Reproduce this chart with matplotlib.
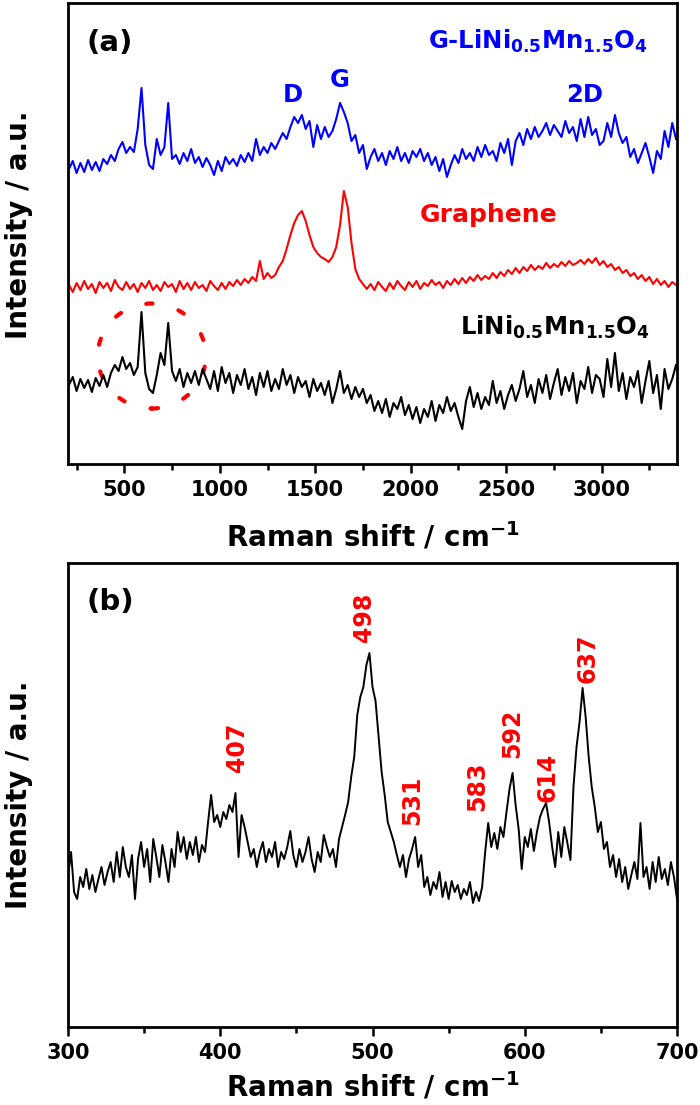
import numpy as np
import matplotlib
matplotlib.use("Agg")
import matplotlib.pyplot as plt
from matplotlib.patches import Ellipse
from matplotlib.ticker import MultipleLocator

plt.rcParams['font.family'] = ['DejaVu Sans']
plt.rcParams['font.weight'] = 'bold'
plt.rcParams['mathtext.fontset'] = 'custom'
plt.rcParams['mathtext.rm'] = 'DejaVu Sans:bold'
plt.rcParams['mathtext.it'] = 'DejaVu Sans:bold'
plt.rcParams['mathtext.bf'] = 'DejaVu Sans:bold'

# ---- panel (a): Raman spectra, 210-3390 cm-1 every 20 cm-1 (relative intensity, a.u.)
shift_a = np.arange(210, 3391, 20)

g_lnmo = [
    -2, 6, -6, 4, -5, 7, -3, 5, -4, 8,          # 210-390
    3, 12, 6, 18, 25, 14, 20, 15, 38, 79,       # 410-590
    22, 2, -2, 28, 12, 20, 64, 8, 12, 3,        # 610-790
    14, 6, 18, 4, 10, 0, 9, 2, -8, 6,           # 810-990
    -4, 10, 3, 8, 1, 12, 5, 14, 6, 28,          # 1010-1190
    12, 20, 14, 24, 18, 26, 34, 28, 40, 50,     # 1210-1390
    44, 52, 38, 46, 20, 42, 28, 40, 30, 36,     # 1410-1590
    48, 64, 55, 44, 26, 32, 14, 22, -2, 10,     # 1610-1790
    18, 6, 14, 2, 16, 8, 20, 6, 14, 4,          # 1810-1990
    16, 10, 18, 6, 14, 2, 10, -4, 8, -10,       # 2010-2190
    2, 12, 4, 18, 8, 14, 6, 20, 10, 22,         # 2210-2390
    12, 16, 6, 24, 14, 28, 2, 26, 34, 22,       # 2410-2590
    38, 28, 40, 30, 36, 44, 32, 42, 36, 30,     # 2610-2790
    46, 34, 40, 26, 48, 30, 50, 32, 38, 22,     # 2810-2990
    26, 44, 30, 52, 34, 24, 30, 10, 18, 4,      # 3010-3190
    14, 24, 10, -6, 16, 8, 36, 20, 44, 28,      # 3210-3390
]

graphene = [
    2, -5, 4, -3, 6, -2, 3, -6, 5, -1,
    4, -4, 7, 0, -3, 5, -2, 3, -5, 4,
    -1, 6, -3, 2, -4, 5, 0, 3, -5, 6,
    -2, 4, -3, 5, -1, 2, -4, 6, 1, -3,
    4, -2, 5, 1, 7, 2, 8, 4, 10, 6,
    26, 8, 14, 9, 12, 20, 26, 38, 52, 64,
    72, 76, 66, 52, 40, 34, 30, 28, 25, 30,
    40, 62, 96, 80, 44, 18, 8, 3, -2, 3,
    -3, 5, 0, -4, 4, -2, 6, 1, -3, 5,
    0, 6, -2, 4, 1, 7, 2, 5, -1, 6,
    2, 8, 3, 9, 4, 10, 6, 12, 7, 11,
    8, 14, 9, 15, 11, 17, 13, 19, 14, 20,
    16, 22, 17, 21, 18, 24, 19, 23, 20, 25,
    21, 26, 22, 24, 27, 23, 28, 24, 29, 22,
    26, 20, 23, 17, 20, 14, 17, 11, 14, 8,
    12, 6, 10, 3, 8, 2, 6, 0, 5, 2,
]

lnmo = [
    -2, 6, -8, 4, -5, 3, -9, 5, -3, 8,
    -4, 10, 18, 12, 26, 14, 20, 8, 16, 71,
    10, -6, -10, 8, 30, 18, 60, 12, 2, 14,
    -4, 10, 0, 12, -2, 14, 4, -6, 12, -8,
    16, 0, 10, -10, 8, -2, 14, -6, 6, -12,
    10, -4, 12, -8, 4, -6, 14, -2, 8, -10,
    6, -4, 2, -14, 4, -8, 0, -12, 2, -20,
    -6, 12, -10, -2, -16, -4, -14, -6, -20, -12,
    -28, -18, -30, -16, -34, -20, -26, -14, -32, -22,
    -36, -24, -40, -26, -34, -18, -38, -22, -30, -14,
    -28, -20, -34, -46, -18, -4, -24, -10, -26, -14,
    -22, 2, -20, -8, -26, -12, -2, -18, -6, 12,
    -14, -2, -20, 4, -10, 8, -16, 0, 14, -12,
    6, -8, 10, -20, 2, -6, 16, -10, 8, 4,
    -14, 24, -4, 30, -8, 10, -16, 6, -4, 12,
    -20, 2, 22, -10, 8, -26, 14, -6, 4, 18,
]

# ---- panel (b): LiNi0.5Mn1.5O4, 300-700 cm-1 every 2 cm-1
shift_b = np.arange(300, 701, 2)
lnmo_zoom = [
    150, 175, 135, 128, 150, 140, 158, 138, 152, 135,   # 300-318
    148, 160, 142, 155, 165, 145, 175, 150, 180, 160,   # 320-338
    150, 172, 128, 168, 185, 160, 178, 145, 188, 170,   # 340-358
    150, 182, 165, 145, 178, 160, 195, 175, 190, 168,   # 360-378
    185, 172, 190, 165, 182, 175, 205, 232, 205, 212,   # 380-398
    200, 215, 208, 222, 215, 234, 170, 212, 200, 185,   # 400-418
    170, 178, 160, 175, 185, 165, 178, 170, 185, 160,   # 420-438
    175, 168, 180, 196, 172, 160, 178, 165, 175, 190,   # 440-458
    168, 155, 175, 165, 192, 180, 170, 178, 160, 188,   # 460-478
    200, 212, 225, 250, 270, 312, 330, 340, 362, 374,   # 480-498
    340, 326, 290, 255, 232, 205, 195, 185, 172, 160,   # 500-518
    172, 150, 168, 178, 190, 160, 172, 140, 150, 132,   # 520-538
    145, 138, 155, 130, 145, 128, 146, 135, 142, 128,   # 540-558
    138, 132, 145, 124, 135, 126, 140, 175, 204, 180,   # 560-578
    194, 178, 200, 190, 215, 238, 254, 222, 198, 158,   # 580-598
    190, 180, 198, 176, 195, 210, 218, 224, 205, 180,   # 600-618
    160, 195, 170, 200, 184, 167, 240, 280, 305, 339,   # 620-638
    310, 270, 240, 220, 195, 205, 178, 185, 160, 172,   # 640-658
    150, 168, 145, 160, 138, 152, 165, 148, 204, 150,   # 660-678
    160, 138, 165, 145, 170, 148, 158, 142, 165, 150,   # 680-698
    128,                                                 # 700
]
peak_labels = ['407', '498', '531', '583', '592', '614', '637']

fig = plt.figure(figsize=(7, 11.05), dpi=100)
ax_a = fig.add_axes([68 / 700, 1 - 464 / 1105, 609 / 700, 461 / 1105])
ax_b = fig.add_axes([68 / 700, 1 - 1027 / 1105, 609 / 700, 464 / 1105])

# stacked spectra
ax_a.plot(shift_a, np.array(g_lnmo) + 297, color='#0000ff', lw=1.5)
ax_a.plot(shift_a, np.array(graphene) + 177, color='#ff0000', lw=1.5)
ax_a.plot(shift_a, np.array(lnmo) + 81, color='black', lw=1.5)
ax_a.set_xlim(205, 3395)
ax_a.set_ylim(0, 461)
ax_a.xaxis.set_major_locator(MultipleLocator(500))
ax_a.xaxis.set_minor_locator(MultipleLocator(250))

ax_a.add_patch(Ellipse((644, 108), 566, 105, fill=False, edgecolor='#ff0000',
                       lw=3, linestyle=(0, (1.5, 6.5)), capstyle='round'))

ax_a.text(0.031, 0.913, '(a)', transform=ax_a.transAxes, fontsize=21,
          ha='left', va='center')
ax_a.text(2089, 415, r'G-LiNi$_{0.5}$Mn$_{1.5}$O$_4$', color='#0000ff',
          fontsize=17.5, ha='left', va='baseline')
ax_a.text(1381, 369, 'D', color='#0000ff', fontsize=17.5, ha='center', va='center')
ax_a.text(1627, 384, 'G', color='#0000ff', fontsize=17.5, ha='center', va='center')
ax_a.text(2912, 369, '2D', color='#0000ff', fontsize=17.5, ha='center', va='center')
ax_a.text(2408, 249, 'Graphene', color='#ff0000', fontsize=18, ha='center', va='center')
ax_a.text(2257, 129, r'LiNi$_{0.5}$Mn$_{1.5}$O$_4$', color='black',
          fontsize=17.5, ha='left', va='baseline')

# zoomed LNMO spectrum
ax_b.plot(shift_b, lnmo_zoom, color='black', lw=1.4)
ax_b.set_xlim(300, 700)
ax_b.set_ylim(0, 464)
ax_b.xaxis.set_major_locator(MultipleLocator(100))
ax_b.xaxis.set_minor_locator(MultipleLocator(50))
ax_b.text(0.031, 0.916, '(b)', transform=ax_b.transAxes, fontsize=21,
          ha='left', va='center')

label_pos = [(411, 280), (494.5, 410), (526, 227), (569, 241),
             (592, 294), (615, 250), (641, 369)]
for lab, (px, py) in zip(peak_labels, label_pos):
    ax_b.text(px, py, lab, color='#ff0000', fontsize=17, rotation=90,
              ha='center', va='center')

for ax, ylab_y, xlab_y in [(ax_a, 0.52, -0.179), (ax_b, 0.5, -0.150)]:
    for sp in ax.spines.values():
        sp.set_linewidth(2)
    ax.set_yticks([])
    ax.tick_params(axis='x', which='major', direction='out', length=6.5, width=1.8,
                   labelsize=15, pad=5)
    ax.tick_params(axis='x', which='minor', direction='out', length=4, width=1.8)
    for t in ax.get_xticklabels():
        t.set_fontweight('bold')
    ax.set_ylabel('Intensity / a.u.', fontsize=20, fontweight='bold')
    ax.yaxis.set_label_coords(-0.057, ylab_y)
    ax.set_xlabel(r'Raman shift / cm$^{-1}$', fontsize=20, fontweight='bold')
    ax.xaxis.set_label_coords(0.5, xlab_y)
    ax.xaxis.label.set_verticalalignment('baseline')

fig.savefig('out.png', dpi=100)
